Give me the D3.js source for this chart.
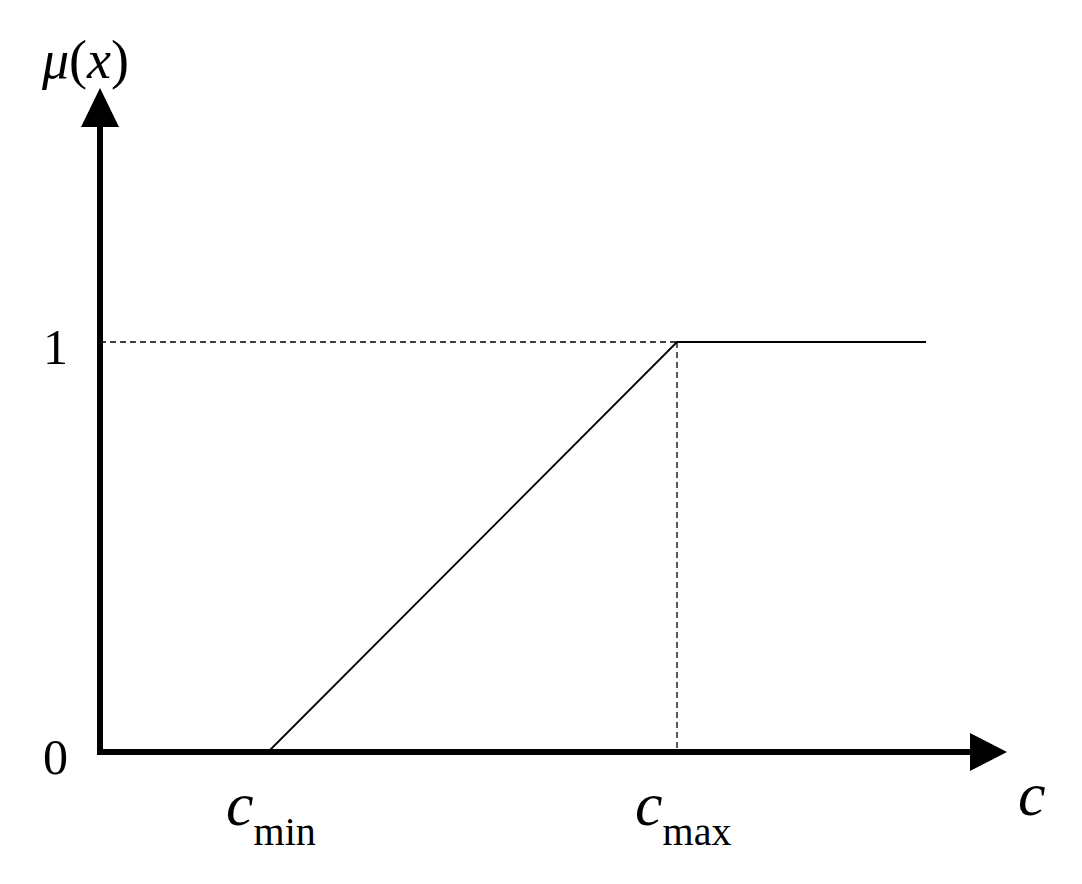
<!DOCTYPE html>
<html>
<head>
<meta charset="utf-8">
<script src="https://cdn.jsdelivr.net/npm/d3@7"></script>
<style>
  body { margin: 0; background: #fff; }
  text { font-family: 'Liberation Serif', 'Times New Roman', serif; fill: #000; }
</style>
</head>
<body>
<div class="canvas"></div>
<script>
// membership function points (x in abstract units, mu in [0,1])
const xs = [168, 577, 826]
const mus = [0, 1, 1]
const xTicks = [{ v: 168, name: 'min' }, { v: 577, name: 'max' }]
const yTicks = [0, 1]

const svg = d3.select('.canvas')
    .append('svg')
    .attr('width', 1082)
    .attr('height', 884)

// scales
const x = d3.scaleLinear().domain([0, 900]).range([100, 1000])
const y = d3.scaleLinear().domain([0, 1]).range([752, 342])

// dashed guides
svg.append('line')
    .attr('x1', x(0)).attr('x2', x(xs[1]))
    .attr('y1', y(1)).attr('y2', y(1))
    .attr('stroke', '#000').attr('stroke-width', 1.3)
    .attr('stroke-dasharray', '6,4')
svg.append('line')
    .attr('x1', x(xs[1])).attr('x2', x(xs[1]))
    .attr('y1', y(1)).attr('y2', y(0))
    .attr('stroke', '#000').attr('stroke-width', 1.3)
    .attr('stroke-dasharray', '6,4')

// membership curve
const line = d3.line().x((d, i) => x(xs[i])).y(d => y(d))
svg.append('path')
    .datum(mus)
    .attr('d', line)
    .attr('fill', 'none')
    .attr('stroke', '#000')
    .attr('stroke-width', 1.8)

// axes (thick with arrows)
svg.append('line')
    .attr('x1', x(0)).attr('x2', 975)
    .attr('y1', y(0)).attr('y2', y(0))
    .attr('stroke', '#000').attr('stroke-width', 6)
svg.append('path')
    .attr('d', `M1007,${y(0)} L970,${y(0) - 19} L970,${y(0) + 19} Z`)
svg.append('line')
    .attr('x1', x(0)).attr('x2', x(0))
    .attr('y1', y(0) + 3).attr('y2', 120)
    .attr('stroke', '#000').attr('stroke-width', 6)
svg.append('path')
    .attr('d', `M${x(0)},88 L${x(0) - 19},127 L${x(0) + 19},127 Z`)

// y tick labels
svg.selectAll('.ytick')
    .data(yTicks)
    .enter()
    .append('text')
    .attr('x', 68)
    .attr('y', d => y(d) + 22)
    .attr('text-anchor', 'end')
    .attr('font-size', 50)
    .text(d => d)

// x tick labels
const xl = svg.selectAll('.xtick')
    .data(xTicks)
    .enter()
    .append('text')
    .attr('x', d => x(d.v) - 42)
    .attr('y', 825)
xl.append('tspan')
    .attr('font-style', 'italic')
    .attr('font-size', 62)
    .text('c')
xl.append('tspan')
    .attr('font-size', 40)
    .attr('dy', 20)
    .text(d => d.name)

// axis titles
svg.append('text')
    .attr('x', 1018).attr('y', 815)
    .attr('font-style', 'italic')
    .attr('font-size', 62)
    .text('c')

const yt = svg.append('text')
    .attr('x', 42).attr('y', 78)
    .attr('font-size', 54)
yt.append('tspan').attr('font-style', 'italic').text('μ')
yt.append('tspan').text('(')
yt.append('tspan').attr('font-style', 'italic').text('x')
yt.append('tspan').text(')')
</script>
</body>
</html>
